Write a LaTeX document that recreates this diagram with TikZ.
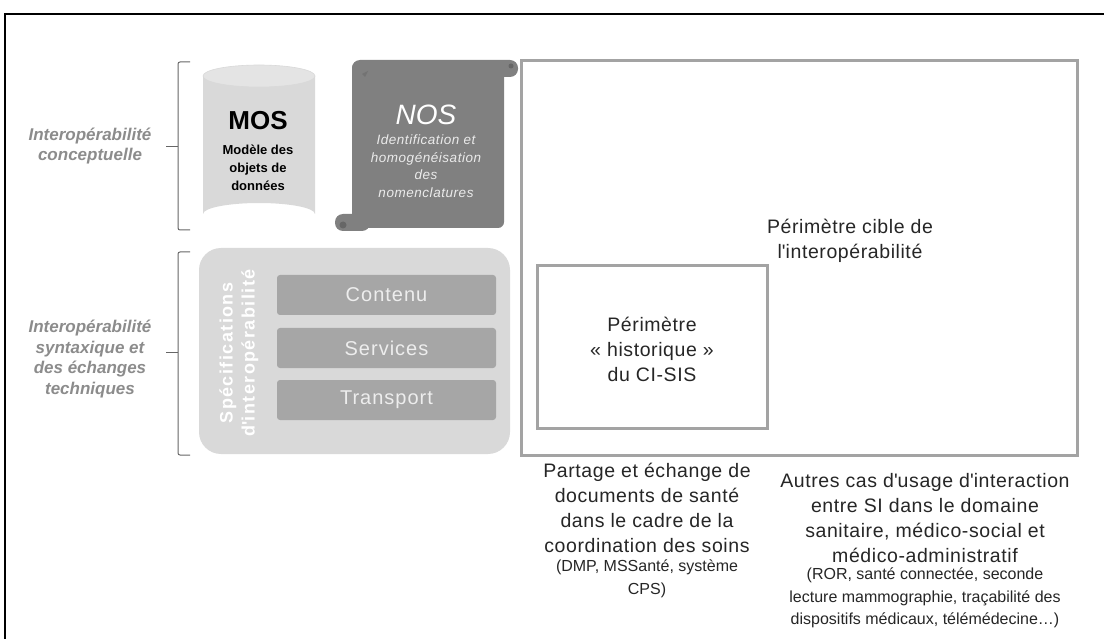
\documentclass[tikz,border=0pt]{standalone}
\usepackage{fontspec}
\setmainfont{Liberation Sans}
\definecolor{lgray}{HTML}{D9D9D9}
\definecolor{ltop}{HTML}{E4E4E4}
\definecolor{mgray}{HTML}{A6A6A6}
\definecolor{dgray}{HTML}{808080}
\definecolor{framegray}{HTML}{A3A3A3}
\definecolor{labgray}{HTML}{8C8C8C}
\definecolor{txt}{HTML}{262626}
\definecolor{subtxt}{HTML}{EDEDED}
\newcommand{\apos}{\textquotesingle}
\tikzset{
  perim/.style={draw=framegray, line width=3pt},
  brace/.style={draw=black!60, line width=1pt, rounded corners=2pt},
  sidelabel/.style={text=labgray, font=\fontsize{17}{20.5}\selectfont\bfseries\itshape, align=center},
  layerbox/.style={fill=mgray, rounded corners=3pt, minimum width=219pt, minimum height=40pt, text=subtxt, font=\fontsize{20}{22}\selectfont\addfontfeature{LetterSpace=5}},
  bigtxt/.style={text=txt, align=center, font=\fontsize{19.5}{25}\selectfont\addfontfeature{LetterSpace=3}},
  smalltxt/.style={text=txt, align=center, font=\fontsize{16}{22.5}\selectfont},
}
\begin{document}
\begin{tikzpicture}[x=1pt,y=-1pt]
\useasboundingbox (0,0) rectangle (1104,639);
\fill[white] (0,0) rectangle (1104,639);
% outer frame
\draw[line width=2.5pt] (5,639) -- (5,14) -- (1104,14);
% brackets
\draw[brace] (190,62) -- (178,62) -- (178,230) -- (190,230);
\draw[brace] (178,147) -- (166,147);
\draw[brace] (190,252) -- (178,252) -- (178,455) -- (190,455);
\draw[brace] (178,352) -- (166,352);
\node[sidelabel] (conc) at (90,146) {Interopérabilité\\conceptuelle};
\node[sidelabel] (synt) at (90,359) {Interopérabilité\\syntaxique et\\des échanges\\techniques};
% MOS cylinder
\fill[lgray] (203,76) -- (203,214) arc[start angle=180,end angle=360,x radius=56,y radius=11] -- (315,76) -- cycle;
\fill[ltop] (259,76) ellipse[x radius=56,y radius=11];
\draw[white!85!black, line width=0.6pt] (259,76) ellipse[x radius=56,y radius=11];
\node[text=black, font=\fontsize{26}{28}\selectfont\bfseries] (mos) at (258,121) {MOS};
\node[text=black, align=center, font=\fontsize{13}{18}\selectfont\bfseries] (mosd) at (258,168) {Modèle des\\objets de\\données};
% NOS scroll
\fill[dgray, rounded corners=6pt] (352,62) rectangle (504,228);
\fill[dgray, rounded corners=8pt] (352,60) rectangle (518,77);
\fill[dgray, rounded corners=8pt] (335,214) rectangle (370,231);
\fill[black!60] (343,225) circle (3.5pt);
\fill[black!60] (511,66) circle (2.5pt);
\fill[black!55] (362,74) -- (368,71) -- (365,77) -- cycle;
\node[text=white, font=\fontsize{28}{30}\selectfont\itshape] (nos) at (426,115) {NOS};
\node[text=white!92!black, align=center, font=\fontsize{13.5}{17.5}\selectfont\itshape\addfontfeature{LetterSpace=4}] (nosd) at (426,166) {Identification et\\homogénéisation\\des\\nomenclatures};
% specifications box
\fill[lgray, rounded corners=22pt] (199,248) rectangle (510,454);
\node[rotate=90, text=white, align=center, font=\fontsize{18}{22}\selectfont\bfseries\addfontfeature{LetterSpace=8}] (spec) at (239,353) {Spécifications\\d\apos interopérabilité};
\node[layerbox] (contenu) at (386.5,295) {Contenu};
\node[layerbox] (services) at (386.5,348) {Services};
\node[layerbox] (transport) at (386.5,400) {Transport};
% perimeters
\draw[perim] (521,61) rectangle (1077,455);
\node[bigtxt] (cible) at (850,241) {Périmètre cible de\\l\apos interopérabilité};
\draw[perim] (537,266) rectangle (767,428);
\node[bigtxt] (histo) at (652,349) {Périmètre\\« historique »\\du CI-SIS};
% bottom texts
\node[bigtxt] (partage) at (647,508) {Partage et échange de\\documents de santé\\dans le cadre de la\\coordination des soins};
\node[smalltxt] (partagesm) at (647,579) {(DMP, MSSanté, système\\CPS)};
\node[bigtxt] (autres) at (925,518) {Autres cas d\apos usage d\apos interaction\\entre SI dans le domaine\\sanitaire, médico-social et\\médico-administratif};
\node[smalltxt] (autressm) at (925,598) {(ROR, santé connectée, seconde\\lecture mammographie, traçabilité des\\dispositifs médicaux, télémédecine…)};
\end{tikzpicture}
\end{document}
